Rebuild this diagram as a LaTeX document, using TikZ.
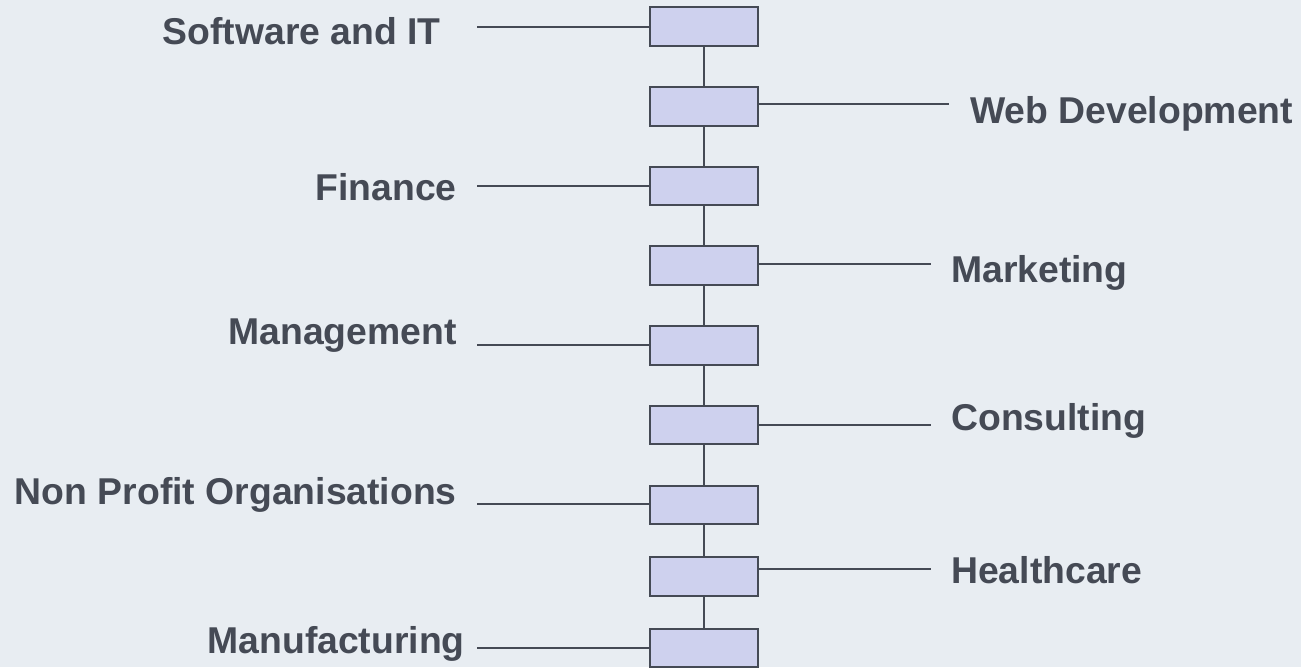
\documentclass[tikz,border=0pt]{standalone}
\usepackage{fontspec}
\setmainfont{Liberation Sans}
\usepackage{tikz}
\usetikzlibrary{calc,positioning}
\definecolor{bgcol}{HTML}{E8EDF2}
\definecolor{boxcol}{HTML}{CED1EE}
\definecolor{inkcol}{HTML}{454A55}
\tikzset{sector/.style={draw=inkcol, fill=boxcol, line width=1.5pt, rectangle, minimum width=81pt, minimum height=28.9pt, inner sep=0pt}}
\tikzstyle{lbl}=[text=inkcol, font=\fontsize{28}{33}\selectfont\bfseries, inner sep=0pt]
\tikzstyle{link}=[draw=inkcol, line width=1.5pt]

\begin{document}
\begin{tikzpicture}[x=0.75pt, y=-0.75pt, node distance=59.8pt]
\useasboundingbox (0,0) rectangle (1301,667);
\fill[bgcol] (0,0) rectangle (1301,667);
% boxes
\node[sector] (B1) at (704,26.5) {};
\node[sector][below of =B1] (B2) {};
\node[sector][below of =B2] (B3) {};
\node[sector][below of =B3] (B4) {};
\node[sector][below of =B4] (B5) {};
\node[sector][below of =B5] (B6) {};
\node[sector][below of =B6] (B7) {};
\node[sector][below of =B7, node distance=53.6pt] (B8) {};
\node[sector][below of =B8, node distance=53.6pt] (B9) {};
\foreach \a/\b in {B1/B2,B2/B3,B3/B4,B4/B5,B5/B6,B6/B7,B7/B8,B8/B9}
  \draw[link] (\a.south) -- (\b.north);
% labels
\node[lbl, anchor=base east] (Soft) at (441,45) {Software and IT};
\node[lbl, anchor=base west] (Web) at (970,123.3) {Web Development};
\node[lbl, anchor=base east] (Fin) at (457,200.7) {Finance};
\node[lbl, anchor=base west] (Mark) at (951,282.7) {Marketing};
\node[lbl, anchor=base east] (Man) at (457,344.3) {Management};
\node[lbl, anchor=base west] (Cons) at (951,430) {Consulting};
\node[lbl, anchor=base east] (NPO) at (457,504.3) {Non Profit Organisations};
\node[lbl, anchor=base west] (Health) at (951,583.3) {Healthcare};
\node[lbl, anchor=base east] (Manu) at (465,653) {Manufacturing};
% free ends of the side lines
\coordinate (e1) at (477,26.7);
\coordinate (e2) at (949,104.3);
\coordinate (e3) at (477,185.7);
\coordinate (e4) at (931,264.3);
\coordinate (e5) at (477,345);
\coordinate (e6) at (931,425);
\coordinate (e7) at (477,504.3);
\coordinate (e8) at (931,569);
\coordinate (e9) at (477,647.7);
\path[link] (e1) -- (B1.west |- e1)
  (B2.east |- e2) -- (e2)
  (e3) -- (B3.west |- e3)
  (B4.east |- e4) -- (e4)
  (e5) -- (B5.west |- e5)
  (B6.east |- e6) -- (e6)
  (e7) -- (B7.west |- e7)
  (B8.east |- e8) -- (e8)
  (e9) -- (B9.west |- e9);
\end{tikzpicture}
\end{document}
